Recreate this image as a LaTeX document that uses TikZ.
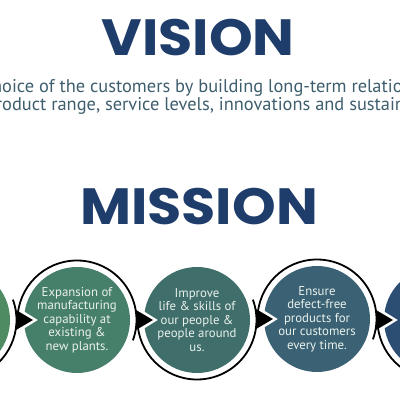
\documentclass[tikz,border=0pt]{standalone}
\usepackage{fontspec}
\setmainfont{PT Sans}
\newfontfamily\headfont{Poppins}
\definecolor{navy}{HTML}{1F3D6B}
\definecolor{subtxt}{HTML}{3E5E6E}
\definecolor{cA}{HTML}{4E8A62}
\definecolor{cB}{HTML}{47806A}
\definecolor{cC}{HTML}{3F6E6B}
\definecolor{cD}{HTML}{3A6274}
\definecolor{cE}{HTML}{2C4E73}
\definecolor{ctext}{HTML}{EAF1EC}
\newcommand{\headtext}[1]{\scalebox{1.09}[1]{#1}}
\begin{document}
\begin{tikzpicture}[x=1pt,y=1pt,
  headstyle/.style={font=\headfont\bfseries\fontsize{51}{51}\selectfont, text=navy, inner sep=0pt},
  subt/.style={font=\fontsize{18.4}{20}\selectfont, text=subtxt, inner sep=0pt},
  disk/.style={circle, minimum size=106pt, inner sep=0pt, text=ctext, align=center,
    font=\fontsize{12.8}{13.5}\selectfont},
  notch/.style={draw=white, fill=white, line width=5pt, line join=miter},
  ring/.style={draw=black, line width=1.8pt},
  tip/.style={fill=black}
]
\useasboundingbox (0,0) rectangle (400,400);
\clip (0,0) rectangle (400,400);

% headings
\node[headstyle] (vision) at (198,362) {\headtext{VISION}};
\node[subt, anchor=base west] (vline1) at (2,307) {\llap{ch}oice of the customers by building long-term relationships};
\node[subt, anchor=base west] (vline2) at (2,289) {\llap{pr}oduct range, service levels, innovations and sustainability.};
\node[headstyle] (mission) at (199,193) {\headtext{MISSION}};

% disks
\node[disk, fill=cA] (m1) at (-43,80) {};
\node[disk, fill=cB] (m2) at (77,80) {Expansion of\\manufacturing\\capability at\\existing \&\\new plants.};
\node[disk, fill=cC] (m3) at (197,80) {Improve\\life \& skills of\\our people \&\\people around\\us.};
\node[disk, fill=cD] (m4) at (317,81) {Ensure\\defect-free\\products for\\our customers\\every time.};
\node[disk, fill=cE] (m5) at (437,80) {};

% white notches for arrowheads
\foreach \m in {m2,m3,m4,m5}{
  \path[notch] ([shift={(-60,10)}]\m.center) -- ++(0,-20) -- ++(16,10) -- cycle;
}

% rings
\draw[ring] ([shift={(20:59.5)}]m1.center) arc[start angle=20, end angle=-180, radius=59.5];
\draw[ring] ([shift={(180:59.5)}]m2.center) arc[start angle=180, end angle=-20, radius=59.5];
\draw[ring] ([shift={(180:59.5)}]m3.center) arc[start angle=180, end angle=380, radius=59.5];
\draw[ring] ([shift={(180:59.5)}]m4.center) arc[start angle=180, end angle=-20, radius=59.5];
\draw[ring] ([shift={(180:59.5)}]m5.center) arc[start angle=180, end angle=380, radius=59.5];

% arrowheads
\foreach \m in {m2,m3,m4,m5}{
  \path[tip] ([shift={(-61,10)}]\m.center) -- ++(0,-20) -- ++(17,10) -- cycle;
}
\end{tikzpicture}
\end{document}
